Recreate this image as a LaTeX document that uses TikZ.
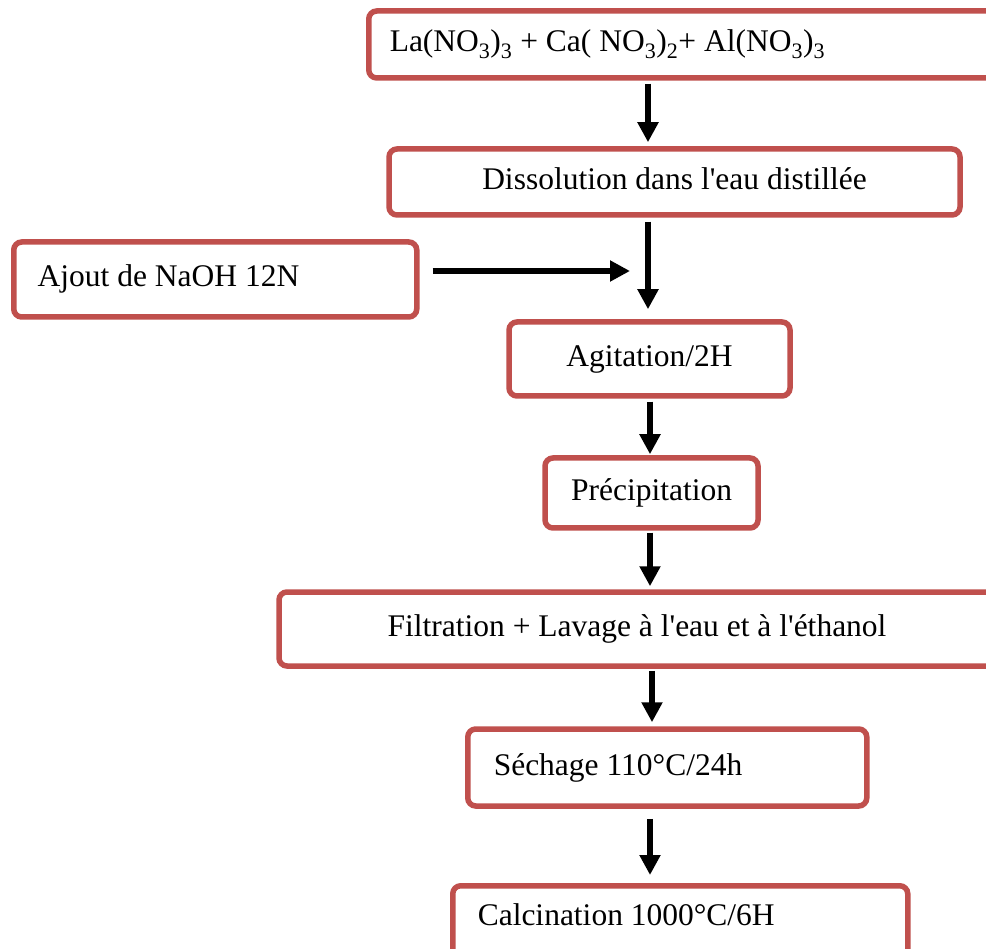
\documentclass[tikz,border=0pt]{standalone}
\usepackage{fontspec}
\setmainfont{Liberation Serif}
\usetikzlibrary{arrows.meta,calc}
\definecolor{boxred}{HTML}{C0504D}
\begin{document}
\begin{tikzpicture}[x=1pt,y=-1pt,
  box/.style={draw=boxred, line width=5.5pt, rounded corners=8pt, fill=white,
    font=\fontsize{31.5}{36}\selectfont, text height=22pt, text depth=7pt, inner ysep=0pt},
  arr/.style={line width=5.5pt, -{Triangle[width=20pt,length=20pt]}}]
\useasboundingbox (0,0) rectangle (986,949);
\fill[white] (0,0) rectangle (986,949);
\clip (0,0) rectangle (986,949);

\node[box, anchor=west, inner xsep=21pt, minimum height=67pt] (top) at (366,44.5)
  {\makebox[592pt][l]{La(NO\textsubscript{3})\textsubscript{3} + Ca( NO\textsubscript{3})\textsubscript{2}+ Al(NO\textsubscript{3})\textsubscript{3}}};
\node[box, minimum width=571pt, minimum height=66pt] (dis) at (674.5,182)
  {Dissolution dans l\textquotesingle eau distillée};
\node[box, anchor=west, inner xsep=24pt, minimum height=75pt] (naoh) at (11,279.5)
  {\makebox[355pt][l]{Ajout de NaOH 12N}};
\node[box, minimum width=281pt, minimum height=74pt] (agit) at (649.5,359) {Agitation/2H};
\node[box, minimum width=213pt, minimum height=70pt] (prec) at (651.5,493) {Précipitation};
\node[box, minimum width=716pt, minimum height=74pt] (filt) at (637,629)
  {Filtration + Lavage à l\textquotesingle eau et à l\textquotesingle éthanol};
\node[box, anchor=west, inner xsep=26pt, minimum height=77pt] (sech) at (465,767.5)
  {\makebox[347pt][l]{Séchage 110°C/24h}};
\node[box, anchor=north west, inner xsep=25pt, minimum height=77pt, text depth=19pt] (calc) at (450,883)
  {\makebox[405pt][l]{Calcination 1000°C/6H}};

\coordinate (xa) at (648,0);
\coordinate (xb) at (650,0);
\coordinate (xc) at (652,0);
\coordinate (j) at (630,271);

\draw[arr, shorten <=3pt, shorten >=4pt] (top.south -| xa) -- (dis.north -| xa);
\draw[arr, shorten <=4pt, shorten >=10pt] (dis.south -| xa) -- (agit.north -| xa);
\draw[arr, shorten <=13pt] (naoh.east |- j) -- (j);
\draw[arr, shorten <=3pt, shorten >=1pt] (agit.south -| xb) -- (prec.north -| xb);
\draw[arr, shorten <=2pt, shorten >=3pt] (prec.south -| xb) -- (filt.north -| xb);
\draw[arr, shorten <=2pt, shorten >=4pt] (filt.south -| xc) -- (sech.north -| xc);
\draw[arr, shorten <=10pt, shorten >=8pt] (sech.south -| xb) -- (calc.north -| xb);
\end{tikzpicture}
\end{document}
